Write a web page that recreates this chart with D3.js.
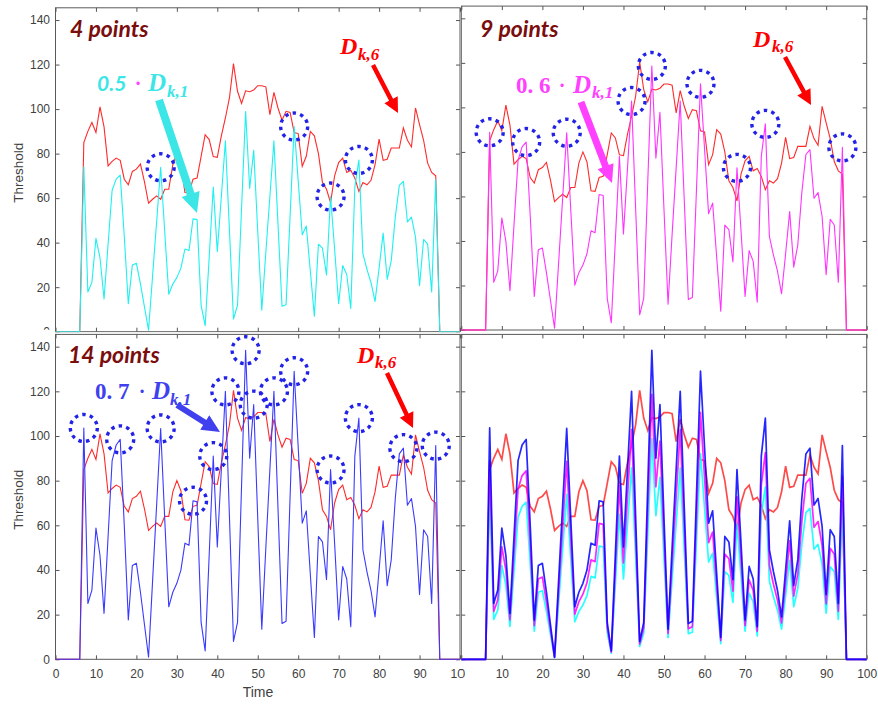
<!DOCTYPE html>
<html>
<head>
<meta charset="utf-8">
<script src="https://cdn.jsdelivr.net/npm/d3@7"></script>
<style>
  body { margin: 0; background: #fff; }
  svg { display: block; }
</style>
</head>
<body>
<div id="chart"></div>
<script>
// time steps 0..100
const time = d3.range(0, 101);

// D_k,6 (red)
const d6 = [
  0, 0, 0, 0, 0, 0, 0,
  85, 90, 94, 89.5, 101, 92, 74.5, 76.5, 78, 77,
  68.5, 66, 72, 73, 75.3, 67.3, 57.7, 59.5, 61, 59.5,
  64, 64, 75, 80, 75.5, 62.5, 62.3, 68.5, 69, 78.8,
  88.5, 86.3, 78.7, 78.3, 88, 96, 105, 120.4, 108, 102.5,
  108.2, 107.8, 108.6, 110.5, 110.5, 110, 97.5, 107.5, 100.5, 95,
  99, 98.5, 89.5, 89, 74.3, 78.8, 90, 88, 80, 67,
  64, 58, 70, 76, 78, 71.5, 72.5, 69, 63, 67,
  66, 68, 75, 86.5, 77, 77.5, 82.5, 82.5, 82.5, 91.5,
  86, 83, 100.5, 93, 86, 75.7, 71.5, 70,
  0, 0, 0, 0, 0, 0
];

// D_k,1 (plotted scaled by 0.5, 0.6, 0.7)
const d1 = [
  0, 0, 0, 0, 0, 0, 0,
  148, 35.7, 44.3, 83.9, 66.4, 29.4, 78.6, 127.1, 137.1, 140.7,
  85.7, 25.1, 60, 61.4, 42.9, 22.1, 1.4, 50, 98.6, 147.7,
  90, 33.6, 42.9, 48.6, 57.1, 74.3, 72.9, 101.4, 100.7, 23.6,
  5.4, 67.1, 130, 71.9, 121.4, 171.4, 91.4, 11.4, 23.6, 111.4,
  197.7, 128.6, 162.9, 90, 19.3, 71.4, 121.4, 171.4, 97.1, 22.9,
  24.3, 104.3, 184.3, 135.7, 87.1, 95, 54.3, 14, 78.6, 75.1,
  50.9, 121.4, 74.3, 25.1, 59.4, 51.4, 20.9, 130, 154.3, 70,
  56, 44, 27.1, 57.1, 88.6, 47.1, 63.6, 102.9, 131.4, 135.1,
  98.6, 102.9, 85, 41.4, 82.9, 78.6, 35.7, 136.7,
  0, 0, 0, 0, 0, 0
];

const factors = [0.5, 0.6, 0.7];
const factorText = ["0.5", "0. 6", "0. 7"];
const seriesColors = ["#00ffff", "#ff00ff", "#0000ff"];
const singleColors = ["#1ef0f0", "#ff33ff", "#3a3aff"];
const labelColors = ["#3ce6e6", "#ff40ff", "#4040ee"];
const dotColors = ["#ff40ff", "#ff40ff", "#4040ee"];
const pointLabels = ["4 points", "9 points", "14 points"];
// time steps marked with dashed circles, per panel
const circled = [
  [26, 59, 68, 75],
  [7, 16, 26, 42, 47, 59, 68, 75, 94],
  [7, 16, 26, 34, 39, 42, 47, 49, 54, 59, 68, 75, 86, 94]
];
const xTicks = d3.range(0, 101, 10);
const yTicks = d3.range(0, 141, 20);

const W = 878, H = 704;
const svg = d3.select("#chart").append("svg").attr("width", W).attr("height", H);

const panels = [
  { left: 55.5, right: 460, top: 7.8, bottom: 331.7, show: [0], note: 0, xLab: false, yLab: true, bg: null },
  { left: 461.3, right: 866.7, top: 6.1, bottom: 330, show: [1], note: 1, xLab: false, yLab: false, bg: [461, 0, 417, 331] },
  { left: 55.5, right: 460, top: 334.4, bottom: 659.3, show: [2], note: 2, xLab: true, yLab: true, bg: [0, 329.5, 461, 374.5] },
  { left: 461.3, right: 866.7, top: 334.4, bottom: 659.3, show: [0, 1, 2], note: null, xLab: true, yLab: false, bg: [461, 332.5, 417, 372], thick: true }
];

// annotation layout (pixels)
const notes = [
  { count: [70, 37], d6: [340, 54, 358, 60], a6: [373, 65, 398, 113],
    lab: [97, 91, 138, 148, 167, 97], aL: [159, 100, 197, 213, 8, 20, 19] },
  { count: [480, 37], d6: [753, 47, 772, 52], a6: [785, 57, 811, 105],
    lab: [516, 93, 562, 573, 592, 98], aL: [581, 102, 612, 183, 7, 18, 17] },
  { count: [68, 363], d6: [357, 363, 375, 368], a6: [387, 373, 413, 428],
    lab: [95, 399, 142, 152, 170, 405], aL: [177, 405, 220, 432, 6, 18, 17] }
];

function arrowPath(x1, y1, x2, y2, w, hl, hw) {
  const dx = x2 - x1, dy = y2 - y1, L = Math.hypot(dx, dy);
  const ux = dx / L, uy = dy / L, nx = -uy, ny = ux;
  const bx = x2 - ux * hl, by = y2 - uy * hl;
  const p = [
    [x1 + nx * w / 2, y1 + ny * w / 2],
    [bx + nx * w / 2, by + ny * w / 2],
    [bx + nx * hw / 2, by + ny * hw / 2],
    [x2, y2],
    [bx - nx * hw / 2, by - ny * hw / 2],
    [bx - nx * w / 2, by - ny * w / 2],
    [x1 - nx * w / 2, y1 - ny * w / 2]
  ];
  return "M" + p.map(d => d.join(",")).join("L") + "Z";
}

const tickFont = "'Liberation Sans', Arial, sans-serif";
const serif = "'Liberation Serif', 'DejaVu Serif', serif";

panels.forEach((p, pi) => {
  const g = svg.append("g");
  if (p.bg) {
    const id = "clip" + pi;
    svg.append("clipPath").attr("id", id).append("rect")
      .attr("x", p.bg[0]).attr("y", p.bg[1]).attr("width", p.bg[2]).attr("height", p.bg[3]);
    g.attr("clip-path", `url(#${id})`);
    g.append("rect").attr("x", p.bg[0]).attr("y", p.bg[1])
      .attr("width", p.bg[2]).attr("height", p.bg[3]).attr("fill", "#fff");
    if (pi === 2) {
      // the lower image starts below the upper axis line, except over the label column
      g.select("rect").attr("x", 0).attr("width", 54);
      g.append("rect").attr("x", 54).attr("y", 332.5).attr("width", 407).attr("height", 372)
        .attr("fill", "#fff");
    }
  }

  const x = d3.scaleLinear().domain([0, 100]).range([p.left, p.right]);
  const y = d3.scaleLinear().domain([0, 145.5]).range([p.bottom, p.top]);

  const styleAxis = a => {
    a.select(".domain").remove();
    a.selectAll(".tick line").attr("stroke", "#555");
    a.selectAll(".tick text").attr("fill", "#404040")
      .style("font-family", tickFont).style("font-size", "12px");
  };

  g.append("g").attr("transform", `translate(0,${p.bottom})`)
    .call(d3.axisBottom(x).tickValues(xTicks).tickSize(-4).tickPadding(10)
      .tickFormat(p.xLab ? d3.format("d") : () => ""))
    .call(styleAxis);
  g.append("g").attr("transform", `translate(0,${p.top})`)
    .call(d3.axisTop(x).tickValues(xTicks).tickSize(-4).tickFormat(() => ""))
    .call(styleAxis);
  g.append("g").attr("transform", `translate(${p.left},0)`)
    .call(d3.axisLeft(y).tickValues(yTicks).tickSize(-4).tickPadding(5.5)
      .tickFormat(p.yLab ? d3.format("d") : () => ""))
    .call(styleAxis);
  g.append("g").attr("transform", `translate(${p.right},0)`)
    .call(d3.axisRight(y).tickValues(yTicks).tickSize(-4).tickFormat(() => ""))
    .call(styleAxis);

  g.append("rect")
    .attr("x", p.left).attr("y", p.top)
    .attr("width", p.right - p.left).attr("height", p.bottom - p.top)
    .attr("fill", "none").attr("stroke", "#5a5a5a").attr("stroke-width", 1);

  const line = d3.line().x((d, i) => x(time[i])).y(d => y(d));
  const lw = p.thick ? 1.7 : 1.1;

  g.append("path").datum(d6).attr("d", line)
    .attr("fill", "none").attr("stroke", "#ff2a2a").attr("stroke-width", lw)
    .attr("stroke-opacity", p.thick ? 0.85 : 1);

  p.show.forEach(s => {
    g.append("path").datum(d1.map(v => v * factors[s])).attr("d", line)
      .attr("fill", "none").attr("stroke", p.thick ? seriesColors[s] : singleColors[s])
      .attr("stroke-width", lw)
      .attr("stroke-opacity", p.thick ? 0.85 : 1)
      .attr("stroke-linejoin", "round");
  });

  if (p.yLab) {
    g.append("text")
      .attr("transform", `translate(18,${(p.top + p.bottom) / 2 + 3}) rotate(-90)`)
      .attr("text-anchor", "middle").attr("dy", "0.35em")
      .attr("fill", "#404040").style("font-family", tickFont).style("font-size", "13.5px")
      .text("Threshold");
  }
  if (pi === 2) {
    g.append("text").attr("x", 258).attr("y", 697).attr("text-anchor", "middle")
      .attr("fill", "#404040").style("font-family", tickFont).style("font-size", "14px")
      .text("Time");
  }

  if (p.note === null) return;
  const s = p.note, n = notes[s];

  // dashed circles
  g.selectAll(".mark").data(circled[s]).enter().append("circle")
    .attr("cx", t => x(t)).attr("cy", t => y(d1[t] * factors[s]))
    .attr("r", 13.5).attr("fill", "none")
    .attr("stroke", "#2323e8").attr("stroke-width", 3.4)
    .attr("stroke-dasharray", "3.5 4.2");

  // "N points"
  g.append("text").attr("x", n.count[0]).attr("y", n.count[1])
    .attr("fill", "#7a0d0d").style("font-family", "Lato, 'Open Sans', sans-serif")
    .style("font-weight", "bold").style("font-style", "italic").style("font-size", "23px")
    .text(pointLabels[s]);

  // D_k,6 label and red arrow
  g.append("text").attr("x", n.d6[0]).attr("y", n.d6[1]).attr("fill", "#ff0000")
    .style("font-family", serif).style("font-weight", "bold").style("font-style", "italic")
    .style("font-size", "24px").text("D");
  g.append("text").attr("x", n.d6[2]).attr("y", n.d6[3]).attr("fill", "#ff0000")
    .style("font-family", serif).style("font-weight", "bold").style("font-style", "italic")
    .style("font-size", "17px").text("k,6");
  g.append("path").attr("d", arrowPath(...n.a6, 4.5, 15, 15)).attr("fill", "#ff0000");

  // scaled D_k,1 label and arrow
  const c = labelColors[s];
  g.append("text").attr("x", n.lab[0]).attr("y", n.lab[1]).attr("fill", c)
    .style("font-family", s === 0 ? "Lato, sans-serif" : serif)
    .style("font-weight", "bold").style("font-style", s === 0 ? "italic" : "normal")
    .style("font-size", s === 0 ? "21px" : "23px").text(factorText[s]);
  g.append("text").attr("x", n.lab[2]).attr("y", n.lab[1] - 1).attr("fill", dotColors[s])
    .attr("text-anchor", "middle")
    .style("font-family", serif).style("font-weight", "bold").style("font-size", "20px").text("·");
  g.append("text").attr("x", n.lab[3]).attr("y", n.lab[1]).attr("fill", c)
    .style("font-family", serif).style("font-weight", "bold").style("font-style", "italic")
    .style("font-size", "25px").text("D");
  g.append("text").attr("x", n.lab[4]).attr("y", n.lab[5]).attr("fill", c)
    .style("font-family", serif).style("font-weight", "bold").style("font-style", "italic")
    .style("font-size", "17px").text("k,1");
  g.append("path").attr("d", arrowPath(n.aL[0], n.aL[1], n.aL[2], n.aL[3], n.aL[4], n.aL[5], n.aL[6]))
    .attr("fill", c);
});
</script>
</body>
</html>
